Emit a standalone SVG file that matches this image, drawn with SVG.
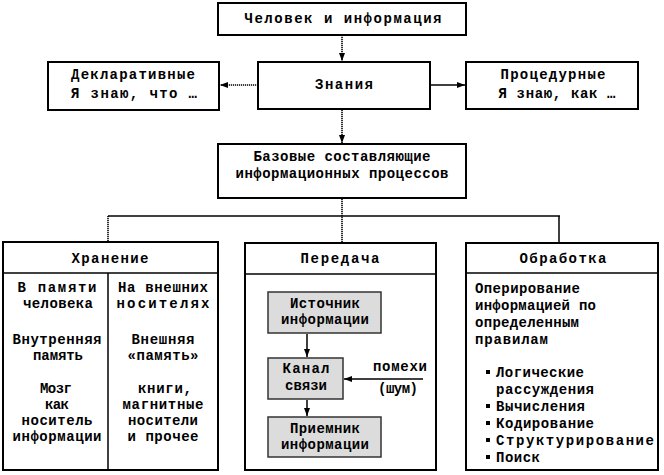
<svg xmlns="http://www.w3.org/2000/svg" width="664" height="475" viewBox="0 0 664 475">
<style>
text{font-family:"Liberation Mono","Courier New",monospace;font-weight:bold;font-size:14px;fill:#000}
.c{text-anchor:middle}
.box{fill:#fff;stroke:#000;stroke-width:2}
.gbox{fill:#dcdcdc;stroke:#333;stroke-width:1.5}
.ln{fill:none;stroke:#000;stroke-width:1.5}
.dot{fill:none;stroke:#000;stroke-width:1.6;stroke-dasharray:1.2 0.8}
</style>
<defs>
<marker id="ah" markerUnits="userSpaceOnUse" markerWidth="8" markerHeight="6" refX="8" refY="3" orient="auto">
<path d="M0,0 L8,3 L0,6 Z" fill="#000"/>
</marker>
</defs>
<g id="n-human">
<rect class="box" x="218" y="3" width="248" height="32"/>
<text class="c" x="343" y="23" textLength="197">Человек и информация</text>
</g>
<g id="n-knowledge">
<rect class="box" x="258" y="62" width="172" height="47"/>
<text class="c" x="344" y="89" textLength="58">Знания</text>
</g>
<g id="n-declarative">
<rect class="box" x="48" y="62" width="171" height="48"/>
<text class="c" x="133" y="79" textLength="124">Декларативные</text>
<text class="c" x="134" y="98" textLength="126">Я знаю, что …</text>
</g>
<g id="n-procedural">
<rect class="box" x="466" y="62" width="172" height="47"/>
<text class="c" x="553" y="79" textLength="105">Процедурные</text>
<text class="c" x="557" y="98" textLength="117">Я знаю, как …</text>
</g>
<g id="n-base">
<rect class="box" x="218" y="144" width="248" height="54"/>
<text class="c" x="342" y="161" textLength="177">Базовые составляющие</text>
<text class="c" x="342" y="178" textLength="213">информационных процессов</text>
</g>
<g id="n-storage">
<rect class="box" x="3" y="242" width="215" height="228"/>
<line class="ln" x1="3" y1="273" x2="218" y2="273"/>
<line class="ln" x1="108" y1="273" x2="108" y2="470"/>
<text class="c" x="110" y="263" textLength="77">Хранение</text>
<text class="c" x="57" y="292" textLength="79">В памяти</text>
<text class="c" x="58" y="308" textLength="70">человека</text>
<text class="c" x="57" y="344" textLength="89">Внутренняя</text>
<text class="c" x="58" y="360" textLength="50">память</text>
<text class="c" x="56" y="393" textLength="32">Мозг</text>
<text class="c" x="57" y="409" textLength="24">как</text>
<text class="c" x="57" y="425" textLength="71">носитель</text>
<text class="c" x="57" y="441" textLength="89">информации</text>
<text class="c" x="163" y="292" textLength="90">На внешних</text>
<text class="c" x="163" y="308" textLength="93">носителях</text>
<text class="c" x="163" y="344" textLength="63">Внешняя</text>
<text class="c" x="163" y="360" textLength="71">«память»</text>
<text class="c" x="165" y="393" textLength="54">книги,</text>
<text class="c" x="163" y="409" textLength="81">магнитные</text>
<text class="c" x="163" y="425" textLength="70">носители</text>
<text class="c" x="163" y="441" textLength="71">и прочее</text>
</g>
<g id="n-transfer">
<rect class="box" x="245" y="243" width="191" height="227"/>
<line class="ln" x1="245" y1="274" x2="436" y2="274"/>
<text class="c" x="340" y="263" textLength="79">Передача</text>
</g>
<g id="n-source">
<rect class="gbox" x="268" y="292" width="113" height="41"/>
<text class="c" x="325" y="308" textLength="70">Источник</text>
<text class="c" x="325" y="324" textLength="88">информации</text>
</g>
<g id="n-channel">
<rect class="gbox" x="268" y="358" width="75" height="41"/>
<text class="c" x="306" y="373" textLength="47">Канал</text>
<text class="c" x="306" y="390" textLength="42">связи</text>
</g>
<g id="n-receiver">
<rect class="gbox" x="268" y="417" width="113" height="40"/>
<text class="c" x="325" y="433" textLength="70">Приемник</text>
<text class="c" x="325" y="449" textLength="88">информации</text>
</g>
<g id="n-noise">
<text class="c" x="400" y="371" textLength="54">помехи</text>
<text class="c" x="398" y="393" textLength="40">(шум)</text>
</g>
<g id="n-processing">
<rect class="box" x="466" y="243" width="192" height="227"/>
<line class="ln" x1="466" y1="273" x2="658" y2="273"/>
<text class="c" x="563" y="263" textLength="87">Обработка</text>
<text x="475" y="293" textLength="105">Оперирование</text>
<text x="475" y="310" textLength="121">информацией по</text>
<text x="475" y="327" textLength="104">определенным</text>
<text x="475" y="344" textLength="73">правилам</text>
<rect x="486" y="370" width="4" height="4"/>
<rect x="486" y="404" width="4" height="4"/>
<rect x="486" y="421" width="4" height="4"/>
<rect x="486" y="438" width="4" height="4"/>
<rect x="486" y="455" width="4" height="4"/>
<text x="496" y="377" textLength="88">Логические</text>
<text x="496" y="394" textLength="98">рассуждения</text>
<text x="496" y="411" textLength="89">Вычисления</text>
<text x="496" y="428" textLength="98">Кодирование</text>
<text x="496" y="445" textLength="158">Структурирование</text>
<text x="496" y="462" textLength="44">Поиск</text>
</g>
<g id="connectors">
<line class="dot" x1="342" y1="35" x2="342" y2="61" marker-end="url(#ah)"/>
<line class="dot" x1="258" y1="85" x2="220" y2="85" marker-end="url(#ah)"/>
<line class="ln" x1="430" y1="85" x2="465" y2="85" marker-end="url(#ah)"/>
<line class="dot" x1="342" y1="110" x2="342" y2="143" marker-end="url(#ah)"/>
<line class="dot" x1="342" y1="199" x2="342" y2="242"/>
<line class="ln" x1="108" y1="216" x2="560" y2="216"/>
<line class="dot" x1="108" y1="216" x2="108" y2="241"/>
<line class="ln" x1="559" y1="216" x2="559" y2="242"/>
<line class="ln" x1="307" y1="334" x2="307" y2="357" marker-end="url(#ah)"/>
<line class="ln" x1="307" y1="400" x2="307" y2="416" marker-end="url(#ah)"/>
<line class="ln" x1="423" y1="379" x2="344" y2="379" marker-end="url(#ah)"/>
</g>
</svg>
